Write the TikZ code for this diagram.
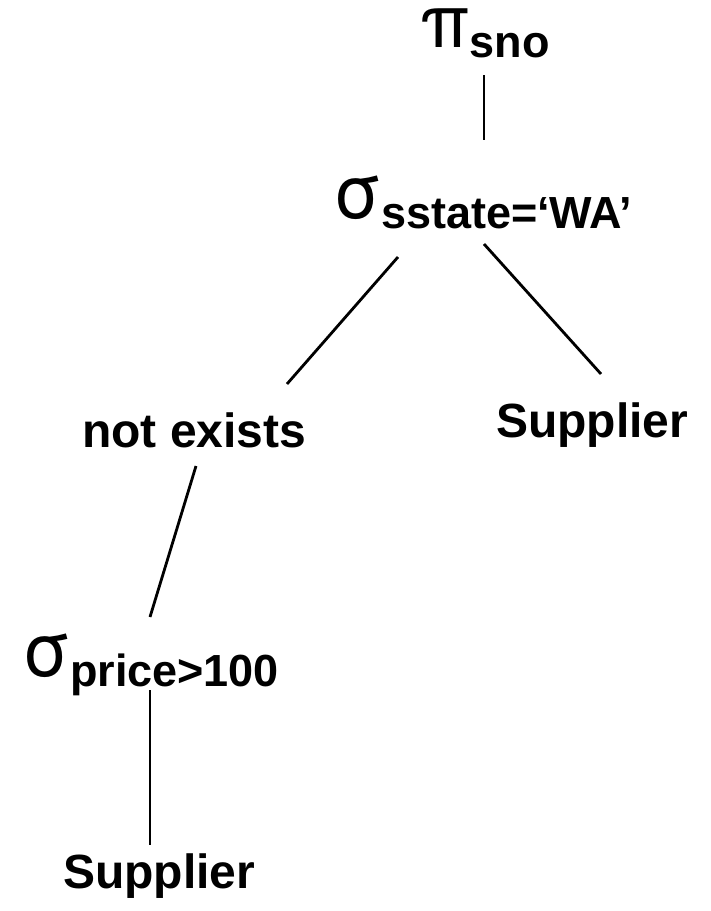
\documentclass[tikz,border=0pt]{standalone}
\usepackage{fontspec}
\setmainfont{Liberation Sans}
\newfontfamily\greekfont{TeX Gyre Heros}
\usetikzlibrary{calc}
\newcommand{\grk}[1]{{\greekfont\fontsize{74}{74}\selectfont\mdseries #1}}
\newcommand{\subtxt}[1]{\raisebox{-10pt}{\fontsize{45}{45}\selectfont\bfseries #1}}
\begin{document}
\begin{tikzpicture}[x=1pt,y=-1pt,
  lbl/.style={inner sep=0pt,anchor=base west,font=\fontsize{48}{48}\selectfont\bfseries},
  edge/.style={line width=2.8pt}]
\useasboundingbox (0,0) rectangle (711,911);
% operator and relation nodes
\node[lbl] (proj)     at (420,47)  {\grk{π}\subtxt{sno}};
\node[lbl] (selstate) at (333,218) {\grk{σ}\subtxt{sstate=‘WA’}};
\node[lbl] (notex)    at (82,447)  {not exists};
\node[lbl] (supR)     at (496,437) {Supplier};
\node[lbl] (selprice) at (22,676)  {\grk{σ}\subtxt{price>100}};
\node[lbl] (supB)     at (63,888)  {Supplier};
% tree edges
\draw[edge] ([shift={(64,28)}]proj.base west) -- ([shift={(151,-78)}]selstate.base west);
\draw[edge] ([shift={(65,39)}]selstate.base west) -- ([shift={(205,-63)}]notex.base west);
\draw[edge] ([shift={(151,26)}]selstate.base west) -- ([shift={(105,-63)}]supR.base west);
\draw[edge] ([shift={(114,19)}]notex.base west) -- ([shift={(128,-59)}]selprice.base west);
\draw[edge] ([shift={(128,14)}]selprice.base west) -- ([shift={(87,-43)}]supB.base west);
\end{tikzpicture}
\end{document}
